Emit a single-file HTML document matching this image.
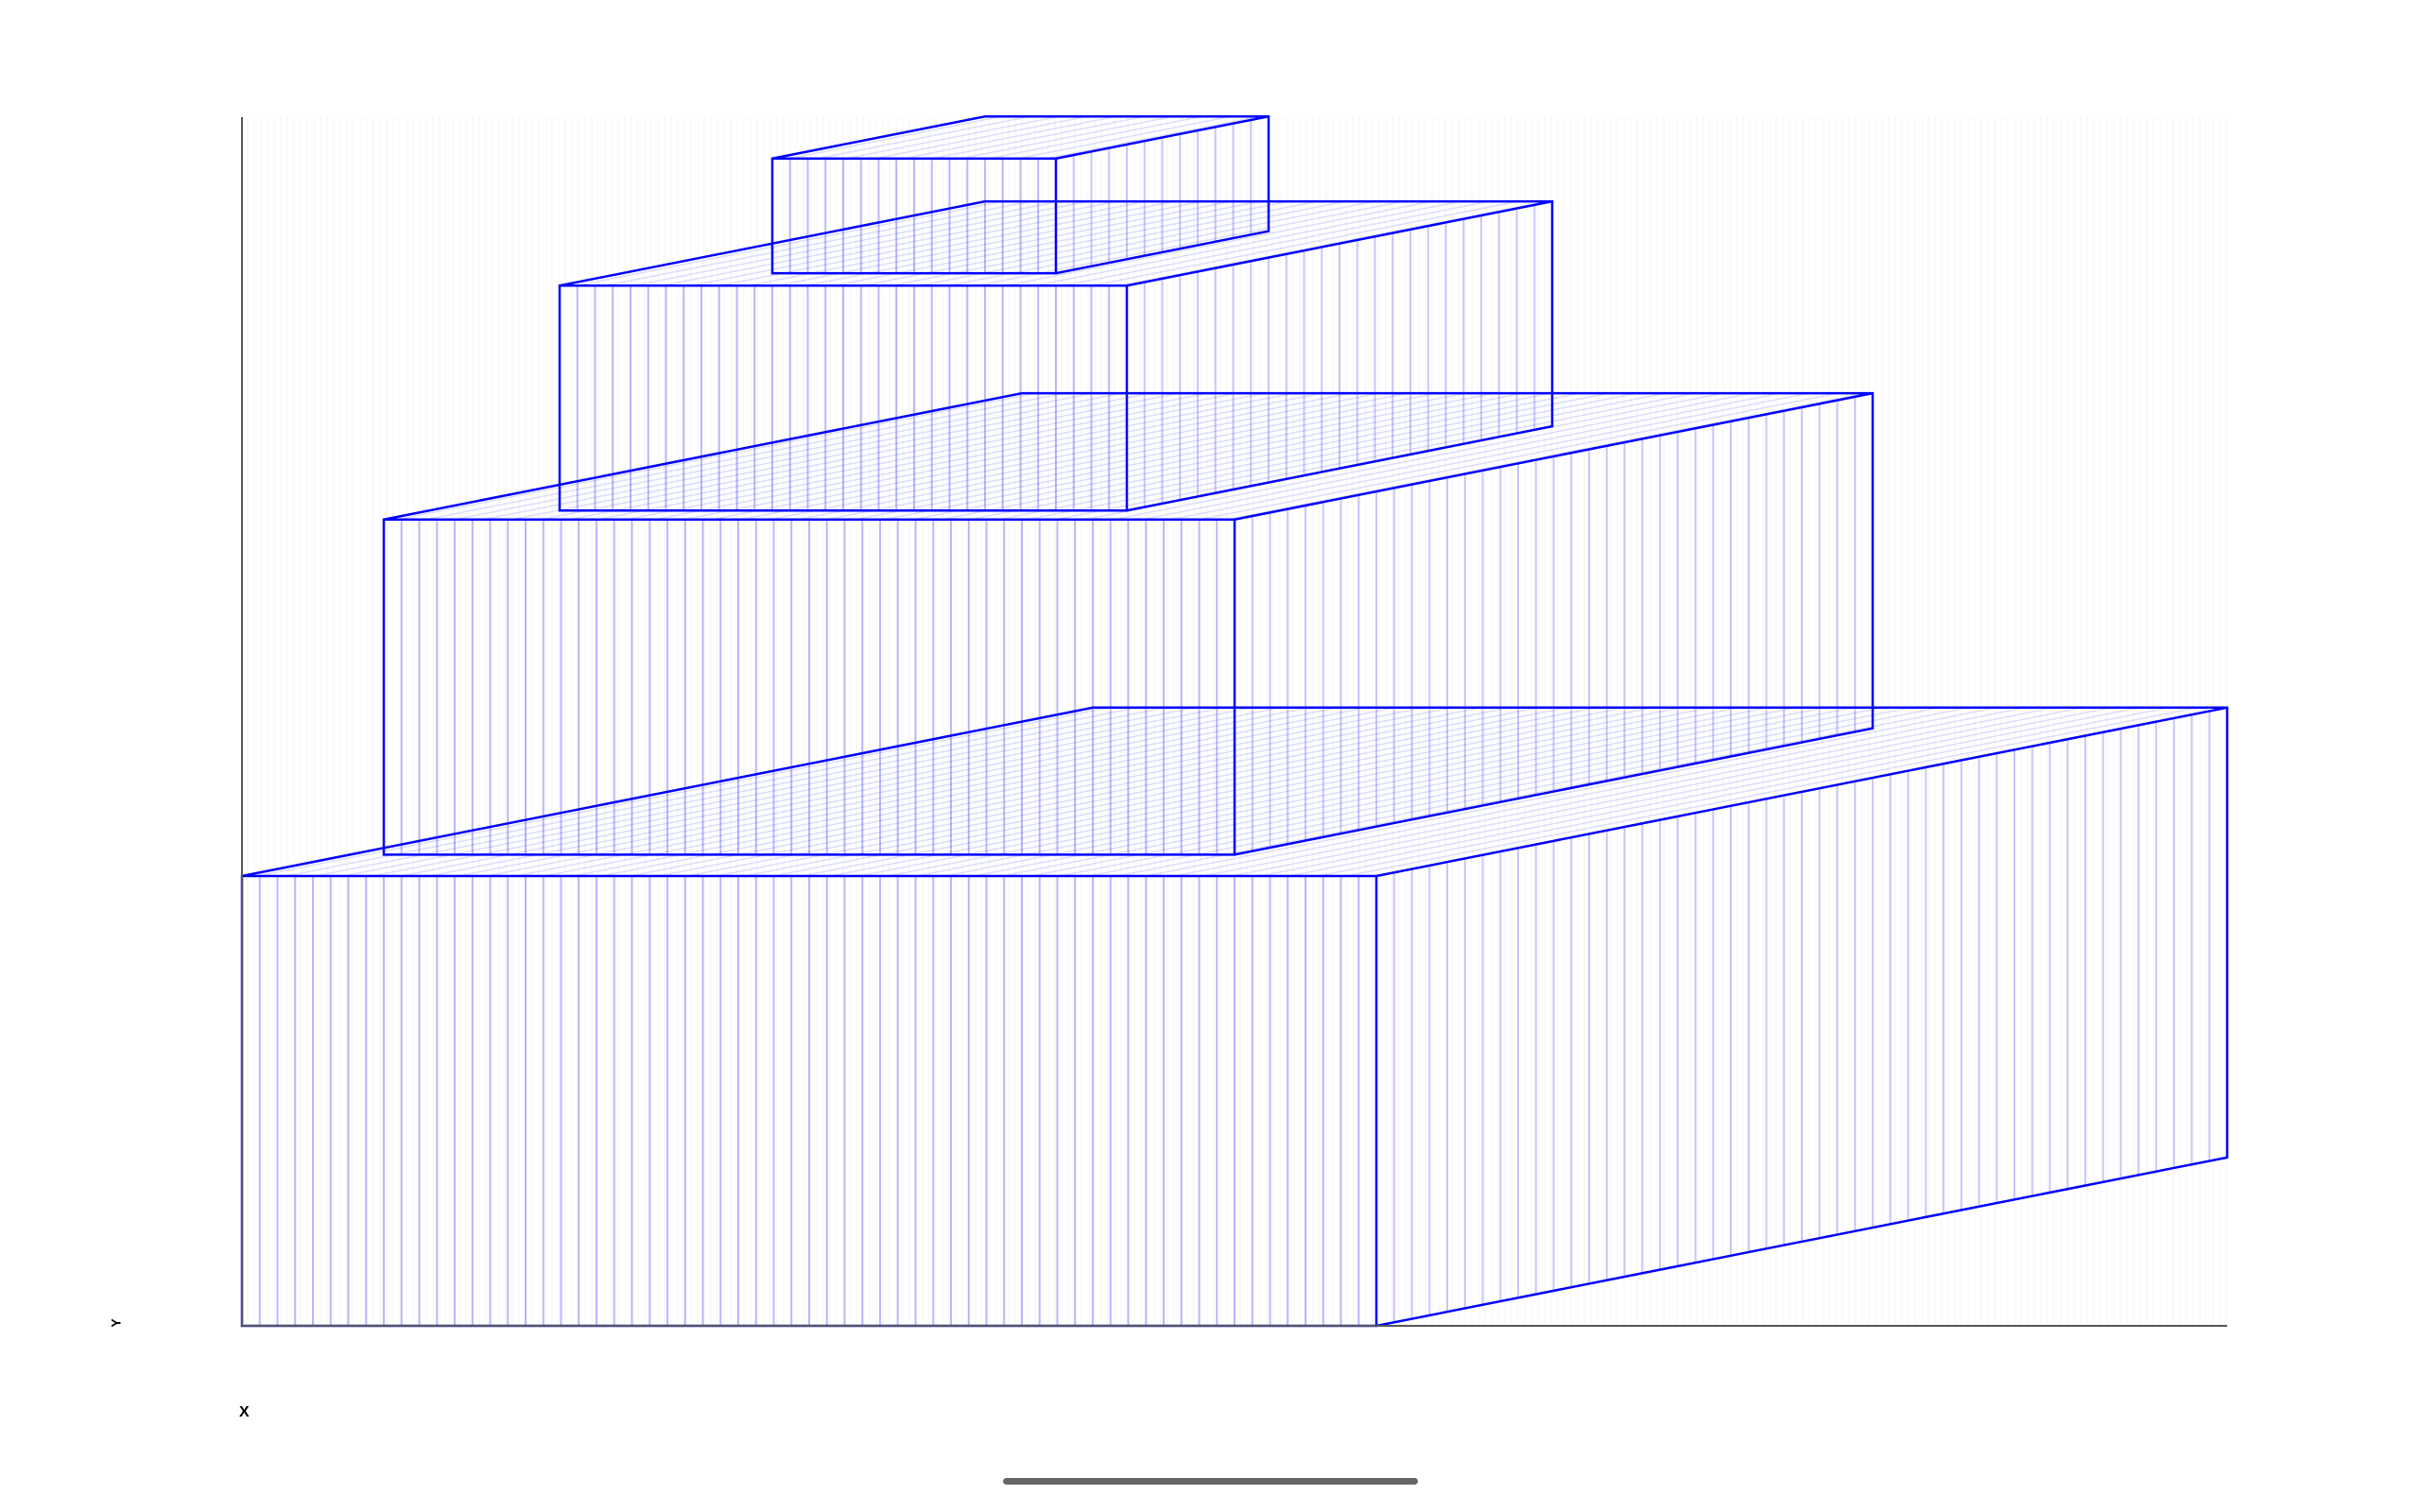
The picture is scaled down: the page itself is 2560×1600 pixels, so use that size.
<!DOCTYPE html>
<html><head><meta charset="utf-8"><style>
html,body{margin:0;padding:0;background:#fff;width:2560px;height:1600px;overflow:hidden;font-family:"Liberation Sans",sans-serif}
</style></head><body>
<svg id="chart" width="2560" height="1600" xmlns="http://www.w3.org/2000/svg">
<defs>
<pattern id="topHatch" patternUnits="userSpaceOnUse" width="6" height="6" patternTransform="skewY(-11.2)">
<line x1="0" y1="3" x2="6" y2="3" stroke="rgba(0,0,255,0.14)" stroke-width="1.5"/>
</pattern>
<pattern id="bgGrid" patternUnits="userSpaceOnUse" width="7" height="10">
<line x1="3" y1="0" x2="3" y2="10" stroke="rgba(0,0,0,0.035)" stroke-width="1"/>
</pattern>
</defs>
<rect x="256" y="124" width="2100" height="1279" fill="url(#bgGrid)"/>
<g id="boxes"></g>
<line x1="256" y1="124" x2="256" y2="1403" stroke="#555" stroke-width="2"/>
<line x1="256" y1="1403" x2="2356" y2="1403" stroke="#555" stroke-width="2"/>
<text x="124" y="1400" font-size="14" font-weight="bold" transform="rotate(-90 124 1400)" text-anchor="middle" dominant-baseline="middle">Y</text>
<text x="253" y="1499" font-size="16" font-weight="bold">X</text>
<rect x="1061" y="1564" width="439" height="7" rx="3.5" fill="#666"/>
</svg>
<script>
// data (units)
const boxX = [0, 0.5, 1.12, 1.87];
const boxWidth = [4, 3, 2, 1];
const boxBase = [0, 4.19, 7.25, 9.36];
const boxHeight = [4, 2.98, 2, 1.02];
const boxDepth = [3, 2.25, 1.5, 0.75];

const X0 = 256, Y0 = 1403, UX = 300, UY = 119, DX = 300, DY = 59.4, HATCH = 18.75;
const sx = v => X0 + v * UX;
const sy = v => Y0 - v * UY;
const NS = 'http://www.w3.org/2000/svg';
const g = document.getElementById('boxes');

function mk(tag, attrs) {
  const e = document.createElementNS(NS, tag);
  for (const k in attrs) e.setAttribute(k, attrs[k]);
  g.appendChild(e);
  return e;
}

for (let i = 0; i < boxX.length; i++) {
  const l = sx(boxX[i]), r = sx(boxX[i] + boxWidth[i]);
  const b = sy(boxBase[i]), t = sy(boxBase[i] + boxHeight[i]);
  const ddx = boxDepth[i] * DX, ddy = -boxDepth[i] * DY;
  const top = mk('polygon', {points: `${l},${t} ${r},${t} ${r+ddx},${t+ddy} ${l+ddx},${t+ddy}`, fill: 'url(#topHatch)', stroke: 'none'});
  
  
  for (let x = l + HATCH; x < r - 2; x += HATCH) {
    const ln = mk('line', {x1: x, y1: t, x2: x, y2: b, stroke: 'rgba(0,0,255,0.28)', 'stroke-width': 2});
    
    
  }
  for (let x = r + HATCH; x < r + ddx - 2; x += HATCH) {
    const f = (x - r) / ddx;
    const ln = mk('line', {x1: x, y1: t + f*ddy, x2: x, y2: b + f*ddy, stroke: 'rgba(0,0,255,0.22)', 'stroke-width': 2});
    
    
  }
  const front = mk('rect', {x: l, y: t, width: r - l, height: b - t, fill: 'none', stroke: '#0000ff', 'stroke-width': 2.5});
  
  
  const edges = mk('polyline', {points: `${l},${t} ${l+ddx},${t+ddy} ${r+ddx},${t+ddy} ${r+ddx},${b+ddy} ${r},${b}`, fill: 'none', stroke: '#0000ff', 'stroke-width': 2.5});
  
  
  const e2 = mk('line', {x1: r, y1: t, x2: r+ddx, y2: t+ddy, stroke: '#0000ff', 'stroke-width': 2.5});
  
  
}
</script>
</body></html>
